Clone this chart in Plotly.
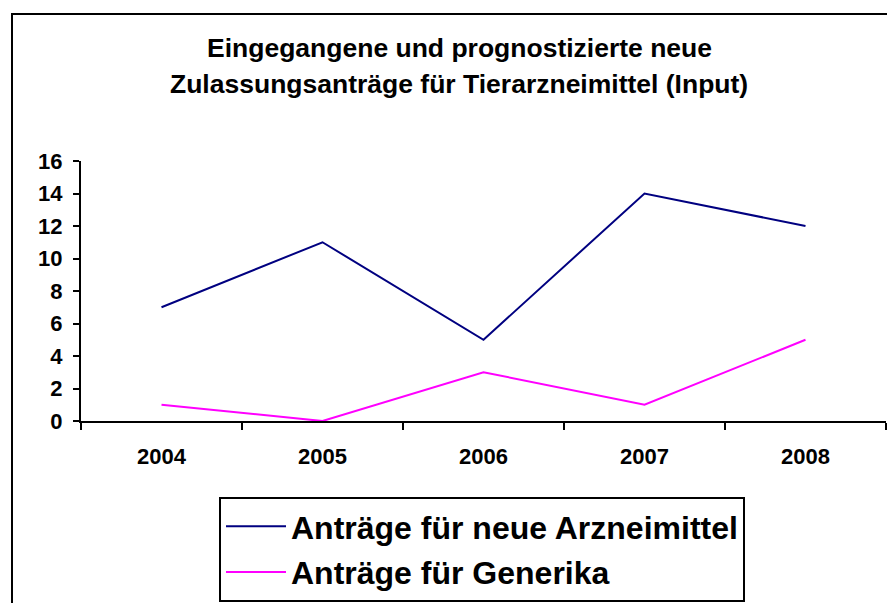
import plotly.graph_objects as go

years = ["2004", "2005", "2006", "2007", "2008"]
neue = [7, 11, 5, 14, 12]
generika = [1, 0, 3, 1, 5]
y_ticks = [0, 2, 4, 6, 8, 10, 12, 14, 16]
title_lines = ["Eingegangene und prognostizierte neue", "Zulassungsanträge für Tierarzneimittel (Input)"]
series_names = ["Anträge für neue Arzneimittel", "Anträge für Generika"]

FONT = "Liberation Sans, Arial, sans-serif"
OFF = 8  # default page body margin
W, H = 895 - OFF, 603 - OFF
L, R, T, B = 81 - OFF, 9, 161 - OFF, 182
pw, ph = W - L - R, H - T - B

def px_x(px):
    return (px - OFF - L) / pw

def px_y(py):
    return (H - B - (py - OFF)) / ph

fig = go.Figure()
fig.add_trace(go.Scatter(x=years, y=neue, mode="lines", name=series_names[0],
                         line=dict(color="#000080", width=2), legendgroup="a"))
fig.add_trace(go.Scatter(x=years, y=generika, mode="lines", name=series_names[1],
                         line=dict(color="#FF00FF", width=2), legendgroup="b"))

fig.update_layout(
    width=W, height=H,
    margin=dict(l=L, r=R, t=T, b=B, autoexpand=False),
    paper_bgcolor="white", plot_bgcolor="white",
    font=dict(family=FONT, color="black"),
    showlegend=True,
    legend=dict(x=px_x(219), y=px_y(497), xanchor="left", yanchor="top",
                bordercolor="black", borderwidth=2, bgcolor="white",
                font=dict(size=32, family=FONT, weight="bold"),
                itemwidth=60,
                traceorder="grouped", tracegroupgap=1),
    xaxis=dict(type="category", range=[-0.5, 4.5], showline=True, linecolor="black", linewidth=2,
               ticks="outside", ticklen=7, tickwidth=2, tickcolor="black",
               tickson="boundaries", showgrid=False, zeroline=False, automargin=False,
               tickfont=dict(size=22, family=FONT, weight="bold"), ticklabelstandoff=15),
    yaxis=dict(range=[0, 16], tickvals=y_ticks, showline=True, linecolor="black", linewidth=2,
               ticks="outside", ticklen=6, tickwidth=2, tickcolor="black",
               showgrid=False, zeroline=False, ticklabelstandoff=6, automargin=False,
               tickfont=dict(size=22, family=FONT, weight="bold")),
)

for txt, py in zip(title_lines, [48, 84]):
    fig.add_annotation(text=f"<b>{txt}</b>", xref="paper", yref="paper",
                       x=px_x(459), y=px_y(py), xanchor="center", yanchor="middle",
                       showarrow=False, font=dict(size=26.5, family=FONT))

fig.add_shape(type="rect", xref="paper", yref="paper",
              x0=px_x(12), x1=px_x(905), y0=px_y(615), y1=px_y(14),
              line=dict(color="black", width=2), layer="above")

fig.write_html("out.html")
